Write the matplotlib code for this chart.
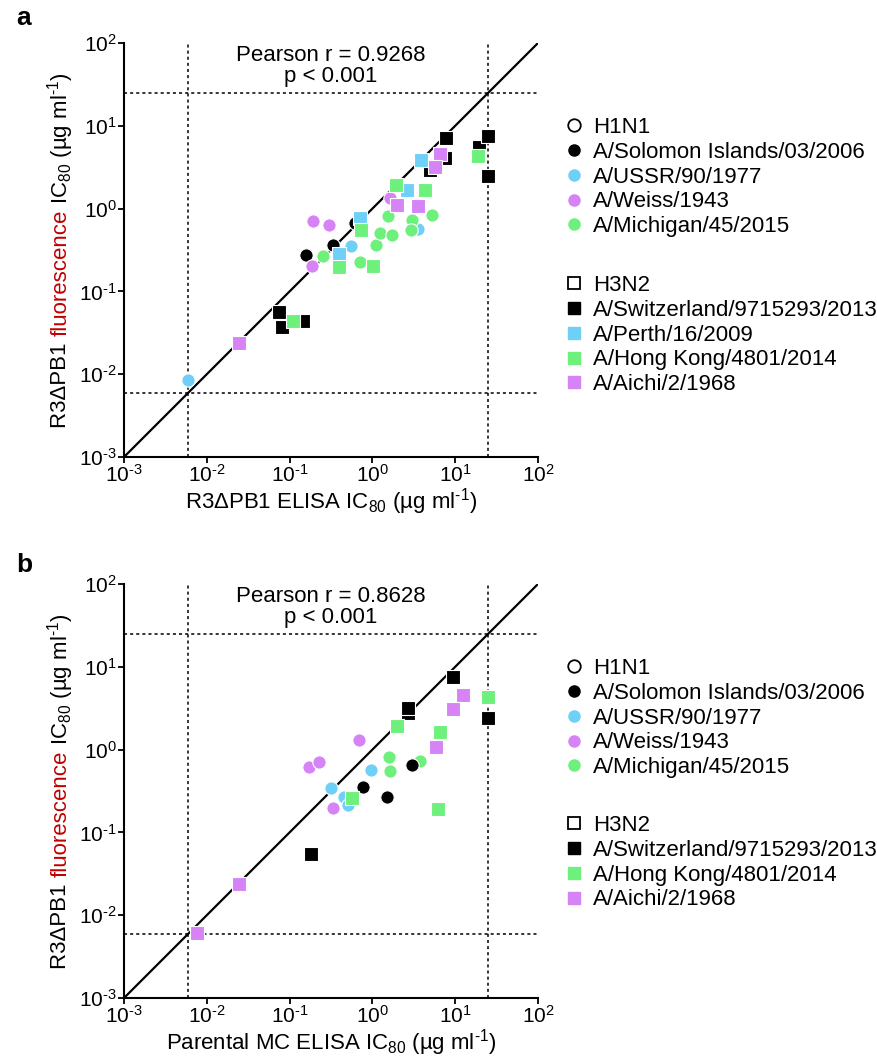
import numpy as np
import matplotlib
matplotlib.use("Agg")
import matplotlib.pyplot as plt
from matplotlib.lines import Line2D

plt.rcParams['font.family'] = ['Liberation Sans', 'DejaVu Sans']
plt.rcParams['mathtext.default'] = 'regular'
plt.rcParams['axes.unicode_minus'] = False

# ---------------- DATA ----------------
# colours for strains
BLACK = "#000000"
BLUE = "#6fd0f7"
PURPLE = "#d683f5"
GREEN = "#6ef07c"

h1n1_names = ["A/Solomon Islands/03/2006", "A/USSR/90/1977", "A/Weiss/1943", "A/Michigan/45/2015"]
h1n1_colors = [BLACK, BLUE, PURPLE, GREEN]
h3n2_names_a = ["A/Switzerland/9715293/2013", "A/Perth/16/2009", "A/Hong Kong/4801/2014", "A/Aichi/2/1968"]
h3n2_colors_a = [BLACK, BLUE, GREEN, PURPLE]
h3n2_names_b = ["A/Switzerland/9715293/2013", "A/Hong Kong/4801/2014", "A/Aichi/2/1968"]
h3n2_colors_b = [BLACK, GREEN, PURPLE]

# panel a : x = R3dPB1 ELISA IC80, y = R3dPB1 fluorescence IC80
a_solomon_x = [0.61, 0.337, 0.156]
a_solomon_y = [0.67, 0.36, 0.273]
a_ussr_x = [0.557, 3.59, 0.0060]
a_ussr_y = [0.35, 0.57, 0.0084]
a_weiss_x = [0.19, 0.296, 0.188, 1.63]
a_weiss_y = [0.71, 0.63, 0.203, 1.33]
a_michigan_x = [0.25, 0.71, 1.12, 1.22, 1.71, 1.56, 3.03, 2.92, 5.3]
a_michigan_y = [0.27, 0.226, 0.363, 0.51, 0.48, 0.81, 0.73, 0.557, 0.845]
a_swiss_x = [5.0, 7.5, 19.5, 7.8, 24.9, 24.9, 0.082, 0.144, 0.074]
a_swiss_y = [2.95, 4.1, 5.5, 7.1, 7.6, 2.45, 0.037, 0.0436, 0.056]
a_perth_x = [3.9, 2.64, 0.71, 0.39]
a_perth_y = [3.9, 1.69, 0.77, 0.286]
a_hk_x = [18.7, 1.93, 4.3, 0.73, 0.39, 1.02, 0.111]
a_hk_y = [4.27, 1.95, 1.69, 0.55, 0.197, 0.203, 0.0444]
a_aichi_x = [6.5, 5.7, 2.0, 3.6, 0.0247]
a_aichi_y = [4.6, 3.18, 1.11, 1.09, 0.0238]

# panel b : x = Parental MC ELISA IC80, y = R3dPB1 fluorescence IC80
b_solomon_x = [3.03, 0.78, 1.5]
b_solomon_y = [0.65, 0.356, 0.267]
b_ussr_x = [0.95, 0.316, 0.454, 0.51]
b_ussr_y = [0.56, 0.344, 0.27, 0.212]
b_weiss_x = [0.171, 0.229, 0.69, 0.331]
b_weiss_y = [0.62, 0.70, 1.31, 0.199]
b_michigan_x = [1.6, 1.65, 3.72]
b_michigan_y = [0.82, 0.547, 0.73]
b_swiss_x = [2.69, 9.3, 2.69, 24.9, 0.181]
b_swiss_y = [2.8, 7.5, 3.16, 2.44, 0.0547]
b_hk_x = [24.9, 2.0, 6.55, 0.56, 6.2]
b_hk_y = [4.26, 1.92, 1.65, 0.262, 0.193]
b_aichi_x = [12.3, 9.4, 5.8, 0.0245, 0.0076]
b_aichi_y = [4.58, 3.08, 1.08, 0.0237, 0.0061]

pearson = ["0.9268", "0.8628"]
HY = "\u2010"  # short hyphen, as in the original superscripts
xlabels = ["R3\u0394PB1 ELISA IC$_{80}$ (\u00b5g ml$^{" + HY + "1}$)",
           "Parental MC ELISA IC$_{80}$ (\u00b5g ml$^{" + HY + "1}$)"]
tick_vals = [1e-3, 1e-2, 1e-1, 1, 10, 100]
tick_labels = ["10$^{" + HY + "3}$", "10$^{" + HY + "2}$", "10$^{" + HY + "1}$",
               "10$^{0}$", "10$^{1}$", "10$^{2}$"]
cutoff_low = 0.006
cutoff_high = 25

FS = 16
MS = 9.6

fig = plt.figure(figsize=(8.77, 10.58), dpi=100)
ax_a = fig.add_axes([124 / 877, 1 - 457 / 1058, 414 / 877, 414 / 1058])
ax_b = fig.add_axes([124 / 877, 1 - 998 / 1058, 414 / 877, 414 / 1058])


def draw_panel(ax, series, r, xlabel):
    ax.set_xscale("log")
    ax.set_yscale("log")
    ax.set_xlim(1e-3, 1e2)
    ax.set_ylim(1e-3, 1e2)
    ax.plot([1e-3, 1e2], [1e-3, 1e2], color="black", lw=1.6, zorder=2)
    for v in (cutoff_low, cutoff_high):
        ax.axvline(v, color="black", lw=1.1, ls=(0, (2, 2)), zorder=1)
        ax.axhline(v, color="black", lw=1.1, ls=(0, (2, 2)), zorder=1)
    for xs, ys, c, m in series:
        ax.plot(xs, ys, ls="none", marker=m, ms=MS, mfc=c, mec="white",
                mew=0.8, zorder=3, clip_on=False)
    for s in ("top", "right"):
        ax.spines[s].set_visible(False)
    for s in ("left", "bottom"):
        ax.spines[s].set_linewidth(1.5)
    ax.set_xticks(tick_vals, tick_labels)
    ax.set_yticks(tick_vals, tick_labels)
    ax.minorticks_off()
    ax.tick_params(axis="both", which="major", direction="out", length=4,
                   width=1.3, labelsize=15, pad=1)
    ax.text(0.5, 0.994, "Pearson r = %s\np < 0.001" % r, transform=ax.transAxes,
            ha="center", va="top", fontsize=FS, linespacing=1.0)
    ax.set_xlabel(xlabel, fontsize=FS, labelpad=0)


draw_panel(ax_a, [
    (a_solomon_x, a_solomon_y, BLACK, "o"),
    (a_ussr_x, a_ussr_y, BLUE, "o"),
    (a_weiss_x, a_weiss_y, PURPLE, "o"),
    (a_michigan_x, a_michigan_y, GREEN, "o"),
    (a_swiss_x, a_swiss_y, BLACK, "s"),
    (a_perth_x, a_perth_y, BLUE, "s"),
    (a_hk_x, a_hk_y, GREEN, "s"),
    (a_aichi_x, a_aichi_y, PURPLE, "s"),
], pearson[0], xlabels[0])

draw_panel(ax_b, [
    (b_ussr_x, b_ussr_y, BLUE, "o"),
    (b_weiss_x, b_weiss_y, PURPLE, "o"),
    (b_michigan_x, b_michigan_y, GREEN, "o"),
    (b_solomon_x, b_solomon_y, BLACK, "o"),
    (b_swiss_x, b_swiss_y, BLACK, "s"),
    (b_hk_x, b_hk_y, GREEN, "s"),
    (b_aichi_x, b_aichi_y, PURPLE, "s"),
], pearson[1], xlabels[1])

fig.text(16 / 877, 1 - 18 / 1058, "a", fontsize=19, fontweight="bold", va="center")
fig.text(16 / 877, 1 - 565 / 1058, "b", fontsize=19, fontweight="bold", va="center")


# legends
def add_legend(header, marker, names, colors, top_px):
    handles = [Line2D([], [], ls="none", marker=marker, ms=9, mfc="white",
                      mec="black", mew=1.3)]
    for c in colors:
        handles.append(Line2D([], [], ls="none", marker=marker, ms=8,
                              mfc=c, mec=c))
    fig.legend(handles, [header] + names, loc="upper left",
               bbox_to_anchor=(566 / 877, 1 - top_px / 1058), frameon=False,
               fontsize=FS, handlelength=0.7, handletextpad=0.5,
               labelspacing=0.17, borderpad=0, borderaxespad=0)


add_legend("H1N1", "o", h1n1_names, h1n1_colors, 117)
add_legend("H3N2", "s", h3n2_names_a, h3n2_colors_a, 275)
add_legend("H1N1", "o", h1n1_names, h1n1_colors, 658)
add_legend("H3N2", "s", h3n2_names_b, h3n2_colors_b, 815)

# y labels with coloured word
fig.canvas.draw()
renderer = fig.canvas.get_renderer()
parts = [("R3\u0394PB1 ", "black"), ("fluorescence", "#c00000"),
         (" IC$_{80}$ (\u00b5g ml$^{" + HY + "1}$)", "black")]
for ax in (ax_a, ax_b):
    bb = ax.get_window_extent()
    xc = 61
    texts = []
    for s, c in parts:
        t = fig.text(0, 0, s, color=c, fontsize=FS, rotation=90,
                     rotation_mode="anchor", ha="left", va="center")
        texts.append(t)
    heights = [t.get_window_extent(renderer).height for t in texts]
    total = sum(heights)
    ystart = (bb.y0 + bb.y1) / 2 - total / 2
    for t, h in zip(texts, heights):
        t.set_position((xc / 877, ystart / 1058))
        ystart += h

fig.savefig("out.png", dpi=100)
